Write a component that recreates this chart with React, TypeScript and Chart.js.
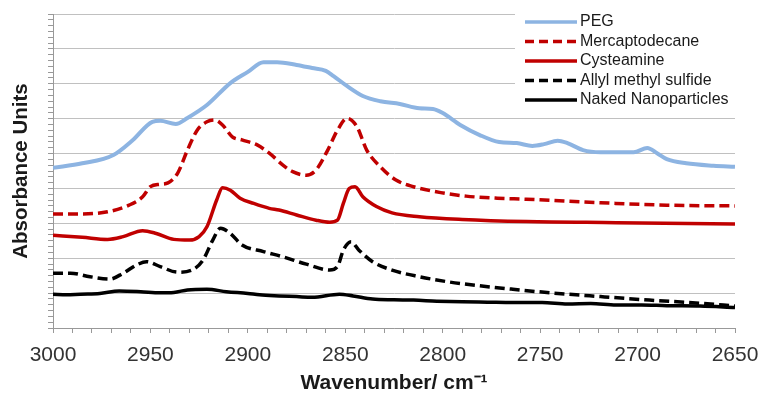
import React, { useEffect, useRef } from "react";
import { Chart, registerables } from "chart.js";

Chart.register(...registerables);

// ---- data (wavenumber in cm-1, absorbance in arbitrary stacked units) ----
const seriesLabels = ["PEG", "Mercaptodecane", "Cysteamine", "Allyl methyl sulfide", "Naked Nanoparticles"];

const wnPEG = [3000, 2985, 2969, 2959, 2949, 2945, 2937, 2931, 2921, 2909, 2900, 2892, 2885, 2875, 2867, 2860, 2856, 2849, 2841, 2832, 2822, 2812, 2805, 2800, 2791, 2781, 2771, 2762, 2754, 2748, 2741, 2736, 2728, 2719, 2702, 2695, 2690, 2685, 2675, 2661, 2650];
const absPEG = [4.59, 4.72, 4.96, 5.39, 5.91, 5.94, 5.85, 6.02, 6.39, 7.02, 7.34, 7.62, 7.62, 7.54, 7.45, 7.37, 7.22, 6.93, 6.65, 6.5, 6.42, 6.3, 6.28, 6.16, 5.82, 5.53, 5.33, 5.3, 5.22, 5.27, 5.37, 5.3, 5.1, 5.04, 5.04, 5.16, 5.01, 4.84, 4.72, 4.65, 4.62];

const wnMercapto = [3000, 2985, 2972, 2961, 2954, 2950, 2945, 2941, 2936, 2931, 2926, 2921, 2917, 2913, 2908, 2903, 2895, 2889, 2882, 2877, 2870, 2865, 2859, 2854, 2849, 2844, 2839, 2832, 2824, 2815, 2801, 2788, 2772, 2757, 2719, 2685, 2650];
const absMercapto = [3.27, 3.27, 3.33, 3.52, 3.76, 4.05, 4.12, 4.16, 4.44, 5.1, 5.67, 5.91, 5.96, 5.82, 5.48, 5.39, 5.24, 5.01, 4.67, 4.48, 4.38, 4.53, 5.1, 5.67, 6.01, 5.77, 5.1, 4.62, 4.24, 4.05, 3.88, 3.78, 3.72, 3.69, 3.59, 3.52, 3.5];

const wnCyste = [3000, 2985, 2972, 2964, 2954, 2947, 2938, 2930, 2925, 2921, 2916, 2913, 2909, 2904, 2897, 2889, 2884, 2875, 2865, 2858, 2854, 2851, 2848, 2845, 2841, 2834, 2826, 2812, 2790, 2757, 2711, 2650];
const absCyste = [2.66, 2.6, 2.54, 2.62, 2.79, 2.71, 2.54, 2.52, 2.62, 2.9, 3.67, 4.02, 3.95, 3.72, 3.57, 3.43, 3.38, 3.24, 3.09, 3.03, 3.09, 3.57, 4.0, 4.05, 3.76, 3.48, 3.3, 3.19, 3.11, 3.05, 3.02, 2.98];

const wnAllyl = [3000, 2991, 2981, 2971, 2964, 2957, 2952, 2945, 2936, 2928, 2923, 2918, 2914, 2909, 2903, 2892, 2882, 2870, 2858, 2854, 2851, 2847, 2843, 2836, 2826, 2812, 2798, 2781, 2764, 2745, 2719, 2694, 2668, 2650];
const absAllyl = [1.57, 1.57, 1.47, 1.4, 1.57, 1.81, 1.9, 1.76, 1.6, 1.68, 1.95, 2.52, 2.86, 2.71, 2.38, 2.19, 2.04, 1.83, 1.66, 1.76, 2.23, 2.47, 2.23, 1.9, 1.66, 1.47, 1.33, 1.21, 1.11, 1.01, 0.9, 0.8, 0.71, 0.63];

const wnNaked = [3000, 2993, 2986, 2976, 2966, 2955, 2945, 2938, 2931, 2921, 2911, 2900, 2894, 2884, 2875, 2867, 2853, 2846, 2836, 2825, 2815, 2803, 2790, 2777, 2764, 2749, 2736, 2724, 2711, 2698, 2685, 2668, 2650];
const absNaked = [0.97, 0.95, 0.97, 0.99, 1.06, 1.04, 1.01, 1.02, 1.09, 1.11, 1.04, 0.99, 0.95, 0.92, 0.9, 0.88, 0.97, 0.92, 0.83, 0.81, 0.8, 0.77, 0.75, 0.74, 0.73, 0.73, 0.69, 0.7, 0.66, 0.66, 0.64, 0.63, 0.59];

const xTickLabels = [3000, 2950, 2900, 2850, 2800, 2750, 2700, 2650];
const X_MIN = 2650;
const X_MAX = 3000;
const X_MINOR_STEP = 10;
const Y_MIN = 0;
const Y_MAX = 9;
const Y_MINOR_PER_MAJOR = 6;

const FONT = "'Liberation Sans', Arial, Helvetica, sans-serif";

function pairs(xs: number[], ys: number[]) {
  return xs.map((x, i) => ({ x, y: ys[i] }));
}

const boxLegend = {
  id: "boxLegend",
  afterDatasetsDraw(chart: any) {
    const { ctx, chartArea } = chart;
    const left = chartArea.right - 220;
    const top = chartArea.top - 6;
    ctx.save();
    ctx.fillStyle = "#ffffff";
    ctx.fillRect(left, top, 226, 104);
    chart.data.datasets.forEach((ds: any, i: number) => {
      const y = top + 14 + i * 19.5;
      ctx.strokeStyle = ds.borderColor;
      ctx.lineWidth = 3.5;
      ctx.setLineDash(ds.borderDash && ds.borderDash.length ? [9, 5] : []);
      ctx.beginPath();
      ctx.moveTo(left + 10, y);
      ctx.lineTo(left + 62, y);
      ctx.stroke();
      ctx.setLineDash([]);
      ctx.fillStyle = "#1a1a1a";
      ctx.font = `16px ${FONT}`;
      ctx.textBaseline = "middle";
      ctx.textAlign = "left";
      ctx.fillText(ds.label, left + 65, y);
    });
    ctx.restore();
  },
};

export default function App() {
  const canvasRef = useRef<HTMLCanvasElement | null>(null);

  useEffect(() => {
    if (!canvasRef.current) return;
    Chart.defaults.font.family = FONT;
    const colors = ["#8DB4E2", "#C00000", "#C00000", "#000000", "#000000"];
    const widths = [4, 3.5, 3.5, 3.5, 3.5];
    const dashes = [[], [10, 5], [], [10, 5], []];
    const dataSets = [
      pairs(wnPEG, absPEG),
      pairs(wnMercapto, absMercapto),
      pairs(wnCyste, absCyste),
      pairs(wnAllyl, absAllyl),
      pairs(wnNaked, absNaked),
    ];
    const xTicks: number[] = [];
    for (let v = X_MIN; v <= X_MAX; v += X_MINOR_STEP) xTicks.push(v);
    const yTicks: number[] = [];
    for (let k = 0; k <= (Y_MAX - Y_MIN) * Y_MINOR_PER_MAJOR; k++) yTicks.push(Y_MIN + k / Y_MINOR_PER_MAJOR);

    const chart = new Chart(canvasRef.current, {
      type: "line",
      data: {
        datasets: dataSets.map((d, i) => ({
          label: seriesLabels[i],
          data: d,
          borderColor: colors[i],
          backgroundColor: colors[i],
          borderDash: dashes[i],
          borderWidth: widths[i],
          pointRadius: 0,
          fill: false,
          cubicInterpolationMode: "monotone" as const,
          borderCapStyle: "butt" as const,
        })),
      },
      options: {
        responsive: false,
        animation: false,
        devicePixelRatio: 1,
        layout: { padding: { left: 0, right: 24, top: 14, bottom: 0 } },
        plugins: { legend: { display: false }, tooltip: { enabled: false } },
        scales: {
          x: {
            type: "linear",
            reverse: true,
            min: X_MIN,
            max: X_MAX,
            afterBuildTicks: (s: any) => {
              s.ticks = xTicks.map((v) => ({ value: v }));
            },
            afterFit: (s: any) => {
              s.height = 66;
            },
            ticks: {
              autoSkip: false,
              maxRotation: 0,
              minRotation: 0,
              padding: 10,
              color: "#333333",
              font: { size: 21, family: FONT },
              callback: (v: any) => (xTickLabels.includes(Number(v)) ? String(v) : ""),
            },
            grid: { drawOnChartArea: false, drawTicks: true, tickLength: 5, tickColor: "#999999" },
            border: { color: "#999999", width: 1 },
            title: {
              display: true,
              text: "Wavenumber/ cm⁻¹",
              color: "#1a1a1a",
              font: { size: 21, weight: "bold", family: FONT },
              padding: { top: 0, bottom: -2 },
            },
          },
          y: {
            type: "linear",
            min: Y_MIN,
            max: Y_MAX,
            afterBuildTicks: (s: any) => {
              s.ticks = yTicks.map((v) => ({ value: v }));
            },
            afterFit: (s: any) => {
              s.width = 53;
            },
            ticks: { display: false },
            grid: {
              color: (c: any) =>
                Math.abs(c.tick.value - Math.round(c.tick.value)) < 1e-6 ? "#C0C0C0" : "rgba(0,0,0,0)",
              tickColor: "#999999",
              tickLength: 5,
              drawTicks: true,
              lineWidth: 1,
            },
            border: { color: "#999999", width: 1 },
            title: {
              display: true,
              text: "Absorbance Units",
              color: "#1a1a1a",
              font: { size: 20.5, weight: "bold", family: FONT },
              padding: { top: 9, bottom: 0 },
            },
          },
        },
      },
      plugins: [boxLegend],
    });
    return () => chart.destroy();
  }, []);

  return (
    <div style={{ position: "fixed", left: 0, top: 0, width: 759, height: 394, background: "#fff" }}>
      <canvas ref={canvasRef} width={759} height={394} style={{ display: "block", width: 759, height: 394 }} />
    </div>
  );
}
